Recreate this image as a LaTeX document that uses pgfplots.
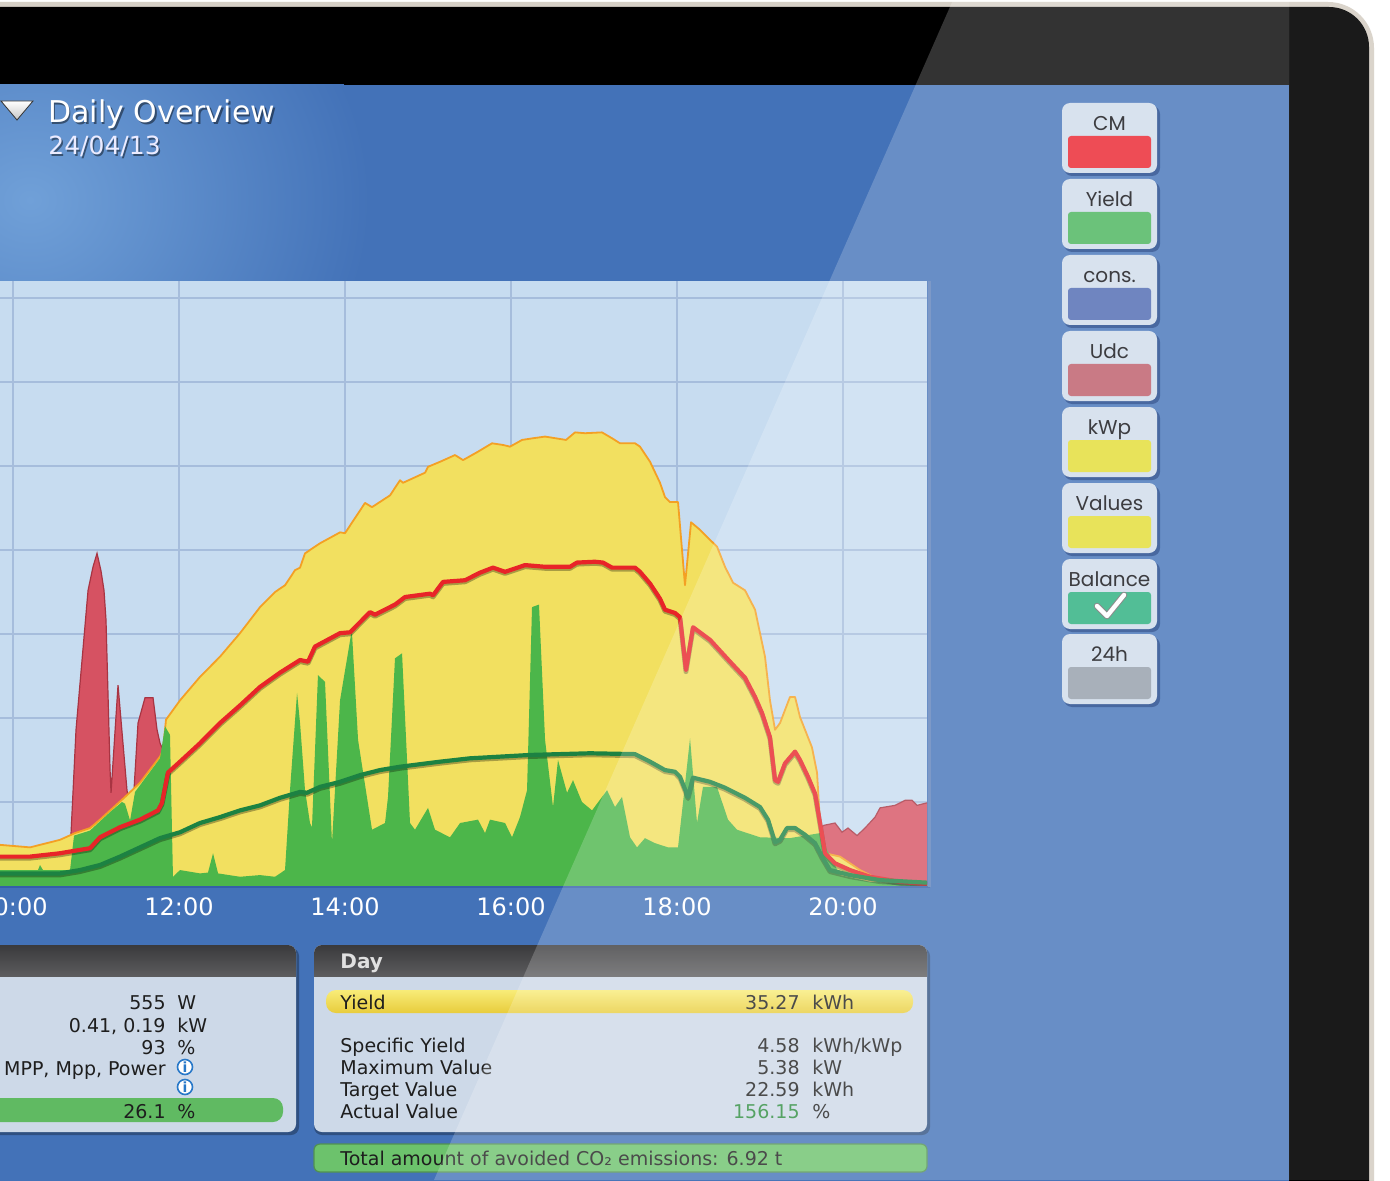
\documentclass[border=0pt]{standalone}
\usepackage{pgfplots}
\usepackage{pgfplotstable}
\pgfplotsset{compat=1.18}
\usepackage{fontspec}
\setmainfont{DejaVu Sans}
\newfontfamily\legfont{Poppins}
\newcommand\fs[1]{\fontsize{#1}{#1}\selectfont}

\definecolor{scrblue}{RGB}{67,114,184}
\definecolor{cloudc}{RGB}{112,160,216}
\definecolor{rimc}{RGB}{214,208,198}
\definecolor{plotbg}{RGB}{199,220,240}
\definecolor{gridc}{RGB}{166,189,220}
\definecolor{yelfill}{RGB}{242,224,96}
\definecolor{yeledge}{RGB}{244,160,36}
\definecolor{redfill}{RGB}{214,82,98}
\definecolor{rededge}{RGB}{168,52,66}
\definecolor{grnfill}{RGB}{76,182,74}
\definecolor{redline}{RGB}{232,36,40}
\definecolor{grnline}{RGB}{28,130,66}
\definecolor{axisblue}{RGB}{52,96,168}
\definecolor{panelbg}{RGB}{205,217,232}
\definecolor{hdr1}{RGB}{58,58,60}
\definecolor{hdr2}{RGB}{92,92,94}
\definecolor{txt}{RGB}{30,30,30}
\definecolor{txtgray}{RGB}{60,60,64}
\definecolor{btnbg}{RGB}{216,226,238}
\definecolor{btnsh}{RGB}{72,104,160}
\definecolor{cmc}{RGB}{238,76,85}
\definecolor{yieldc}{RGB}{107,194,122}
\definecolor{consc}{RGB}{111,133,192}
\definecolor{udcc}{RGB}{201,122,133}
\definecolor{kwpc}{RGB}{232,227,90}
\definecolor{balc}{RGB}{82,190,150}
\definecolor{h24c}{RGB}{168,176,186}
\definecolor{barylw1}{RGB}{248,236,120}
\definecolor{barylw2}{RGB}{232,204,60}
\definecolor{bargrn}{RGB}{96,186,98}
\definecolor{co2grn}{RGB}{108,194,108}
\definecolor{valgrn}{RGB}{44,140,62}
\definecolor{infoblue}{RGB}{40,120,200}

% time [h], power [kW]
\pgfplotstableread{
h v
9.843 0.49
10.205 0.46
10.566 0.55
10.747 0.63
10.928 0.69
11.048 0.79
11.349 1.06
11.530 1.23
11.771 1.54
11.807 1.62
11.843 1.98
12.012 2.21
12.253 2.49
12.494 2.73
12.735 3.01
12.976 3.32
13.157 3.50
13.277 3.58
13.398 3.76
13.458 3.79
13.518 3.96
13.699 4.08
13.940 4.21
14.000 4.20
14.120 4.38
14.241 4.56
14.325 4.51
14.542 4.65
14.663 4.83
14.699 4.80
14.964 4.92
15.000 4.99
15.145 5.05
15.325 5.13
15.422 5.07
15.602 5.17
15.771 5.27
15.904 5.25
15.988 5.23
16.133 5.31
16.265 5.33
16.410 5.35
16.663 5.31
16.771 5.40
16.892 5.39
17.096 5.40
17.217 5.33
17.313 5.27
17.494 5.27
17.554 5.23
17.675 5.05
17.795 4.80
17.855 4.63
17.916 4.57
18.012 4.57
18.096 3.58
18.169 4.33
18.277 4.24
18.398 4.12
18.482 4.04
18.578 3.80
18.675 3.61
18.819 3.52
18.940 3.29
19.060 2.73
19.120 2.21
19.181 1.86
19.241 1.94
19.361 2.25
19.422 2.25
19.482 2.01
19.542 1.86
19.626 1.65
19.687 1.35
19.723 0.75
19.783 0.39
19.964 0.35
20.205 0.19
20.446 0.07
20.687 0.02
21.012 0.01
}\yelarea

\pgfplotstableread{
h v
9.843 0.30
10.687 0.40
10.699 0.63
10.759 1.86
10.904 3.52
10.964 3.80
11.012 3.96
11.060 3.75
11.096 3.52
11.120 3.17
11.169 1.38
11.181 1.11
11.265 2.39
11.373 1.14
11.410 0.90
11.458 1.15
11.506 1.94
11.590 2.24
11.687 2.24
11.735 1.86
11.771 1.70
11.807 1.62
11.843 0.50
19.482 0.30
19.699 0.50
19.759 0.72
19.904 0.75
19.988 0.64
20.060 0.69
20.169 0.60
20.265 0.69
20.386 0.82
20.446 0.93
20.627 0.96
20.747 1.02
20.831 1.02
20.892 0.96
21.012 0.99
}\redarea

\pgfplotstableread{
h v
9.843 0.19
10.301 0.19
10.325 0.25
10.361 0.19
10.687 0.19
10.735 0.60
10.928 0.66
11.169 0.88
11.313 1.00
11.349 0.98
11.410 0.78
11.470 1.12
11.651 1.36
11.771 1.52
11.831 1.90
11.891 1.80
11.927 0.11
12.012 0.19
12.253 0.15
12.349 0.16
12.410 0.39
12.470 0.15
12.735 0.11
12.976 0.13
13.157 0.11
13.277 0.19
13.337 1.14
13.422 2.30
13.458 1.94
13.518 1.14
13.578 0.75
13.602 0.70
13.674 2.51
13.759 2.43
13.843 0.51
13.940 2.21
14.072 2.99
14.084 3.01
14.157 1.74
14.325 0.67
14.482 0.75
14.518 1.06
14.602 2.71
14.687 2.77
14.783 0.75
14.843 0.67
15.000 0.93
15.084 0.67
15.265 0.58
15.386 0.75
15.602 0.79
15.687 0.63
15.747 0.79
15.928 0.75
16.012 0.58
16.108 0.82
16.193 1.14
16.253 3.32
16.337 3.35
16.410 1.74
16.506 0.94
16.566 1.50
16.675 1.11
16.747 1.26
16.855 1.00
16.976 0.90
17.157 1.14
17.253 0.94
17.337 1.06
17.434 0.58
17.518 0.46
17.614 0.57
17.735 0.51
17.891 0.46
18.012 0.46
18.084 1.10
18.157 1.76
18.241 0.75
18.313 1.18
18.482 1.18
18.614 0.79
18.723 0.67
19.000 0.58
19.361 0.57
19.723 0.63
19.807 0.43
19.964 0.13
20.325 0.05
21.012 0.02
}\grnarea

\pgfplotstableread{
h v
9.843 0.35
10.205 0.35
10.566 0.39
10.928 0.45
11.048 0.58
11.289 0.70
11.530 0.79
11.747 0.90
11.795 0.99
11.867 1.35
12.012 1.48
12.253 1.70
12.494 1.94
12.735 2.15
12.976 2.37
13.217 2.54
13.458 2.69
13.554 2.67
13.638 2.85
13.940 3.01
14.060 3.02
14.301 3.26
14.361 3.23
14.602 3.35
14.723 3.44
15.024 3.48
15.060 3.46
15.181 3.62
15.446 3.64
15.627 3.73
15.783 3.79
15.928 3.74
16.169 3.82
16.410 3.80
16.711 3.80
16.795 3.85
17.012 3.86
17.108 3.85
17.217 3.79
17.494 3.79
17.554 3.74
17.675 3.60
17.795 3.42
17.855 3.29
17.976 3.25
18.036 3.20
18.108 2.57
18.193 3.08
18.398 2.93
18.639 2.67
18.819 2.48
18.940 2.25
19.024 2.06
19.120 1.77
19.181 1.26
19.217 1.24
19.301 1.46
19.422 1.60
19.482 1.50
19.578 1.30
19.663 1.10
19.723 0.75
19.783 0.39
19.904 0.27
20.084 0.19
20.325 0.11
20.687 0.05
21.012 0.02
}\redln

\pgfplotstableread{
h v
9.843 0.15
10.566 0.15
10.807 0.19
11.048 0.25
11.289 0.35
11.530 0.46
11.771 0.57
12.012 0.64
12.253 0.75
12.494 0.82
12.735 0.90
12.976 0.96
13.217 1.05
13.458 1.12
13.542 1.11
13.699 1.18
13.940 1.24
14.181 1.32
14.422 1.38
14.663 1.42
14.904 1.45
15.145 1.48
15.506 1.52
15.867 1.54
16.229 1.56
16.590 1.57
16.952 1.58
17.494 1.57
17.675 1.48
17.855 1.38
17.976 1.36
18.036 1.30
18.133 1.06
18.193 1.29
18.398 1.24
18.578 1.17
18.819 1.05
19.000 0.94
19.096 0.79
19.181 0.52
19.241 0.55
19.325 0.69
19.422 0.69
19.542 0.61
19.663 0.51
19.747 0.35
19.843 0.19
20.084 0.13
20.446 0.07
21.012 0.04
}\grnln

\begin{document}
\begin{tikzpicture}
\useasboundingbox (0pt,0pt) rectangle (695pt,590pt);
\clip (0pt,0pt) rectangle (695pt,590pt);

% ---------- monitor, screen, title (pixel coordinates)
\begin{scope}[x=0.5pt,y=-0.5pt,shift={(0pt,590pt)}]
  \fill[white] (0,0) rectangle (1390,1180);
  \fill[rimc, rounded corners=23pt] (-100,2) rectangle (1374,1400);
  \fill[black, rounded corners=20pt] (-100,7) rectangle (1369,1400);
  \fill[scrblue] (-10,85) rectangle (1289,1200);
  \begin{scope}
    \clip (-10,85) rectangle (1289,1200);
    \shade[inner color=cloudc, outer color=scrblue] (30,200) ellipse [x radius=340, y radius=300];
  \end{scope}
  % title
  \shade[top color=white, bottom color=gray!45, draw=gray!40!black, line width=0.4pt]
     (1,101) -- (33,101) -- (17,120) -- cycle;
  \node[anchor=mid west, inner sep=0pt, text=black, opacity=0.45] at (49.5,119) {\fs{15pt}Daily Overview};
  \node[anchor=mid west, inner sep=0pt, text=white] at (48,117) {\fs{15pt}Daily Overview};
  \node[anchor=mid west, inner sep=0pt, text=black, opacity=0.45] at (49.5,151) {\fs{12.5pt}24/04/13};
  \node[anchor=mid west, inner sep=0pt, text=white!92!blue] at (48,149) {\fs{12.5pt}24/04/13};
\end{scope}

% ---------- chart
\begin{axis}[
  at={(-10pt,147pt)}, anchor=south west,
  scale only axis, width=473.5pt, height=302.5pt,
  xmin=9.602, xmax=21.012, ymin=0, ymax=7.202,
  axis line style={draw=none},
  axis background/.style={fill=plotbg},
  xtick={10,12,14,16,18,20},
  xticklabels={10:00,12:00,14:00,16:00,18:00,20:00},
  ytick={1,2,3,4,5,6,7}, yticklabels={},
  major tick length=0pt,
  grid=major, grid style={gridc, line width=0.7pt},
  xticklabel style={font=\fs{12pt}, text=white, yshift=-2.5pt},
]
\addplot[fill=redfill, draw=none] table[x=h,y=v] {\redarea} \closedcycle;
\addplot[rededge, line width=0.6pt] table[x=h,y=v] {\redarea};
\addplot[fill=yelfill, draw=none] table[x=h,y=v] {\yelarea} \closedcycle;
\addplot[yeledge, line width=0.9pt, line join=round] table[x=h,y=v] {\yelarea};
\addplot[fill=grnfill, draw=none] table[x=h,y=v] {\grnarea} \closedcycle;
\addplot[black, opacity=0.3, line width=2.4pt, line join=round, yshift=-0.8pt] table[x=h,y=v] {\redln};
\addplot[redline, line width=2.1pt, line join=round] table[x=h,y=v] {\redln};
\addplot[black, opacity=0.3, line width=2.4pt, line join=round, yshift=-0.8pt] table[x=h,y=v] {\grnln};
\addplot[grnline, line width=2.1pt, line join=round] table[x=h,y=v] {\grnln};
\end{axis}

% ---------- axis edges, panels, glare, buttons (pixel coordinates)
\begin{scope}[x=0.5pt,y=-0.5pt,shift={(0pt,590pt)}]
  \draw[axisblue, line width=1pt] (-10,886.5) -- (930,886.5);
  \draw[axisblue!80, line width=1.5pt] (929,281) -- (929,887);
  % left panel
  \fill[black!30!scrblue, rounded corners=4pt] (-20,948) rectangle (299,1135);
  \fill[panelbg, rounded corners=4pt] (-20,945) rectangle (296,1132);
  \begin{scope}
    \clip[rounded corners=4pt] (-20,945) rectangle (296,1000);
    \shade[top color=hdr1, bottom color=hdr2] (-20,945) rectangle (296,976);
  \end{scope}
  \fill[bargrn, rounded corners=5pt] (-20,1098) rectangle (283,1122);
  \foreach \yy/\val/\unit in {1004/555/W,1027/{0.41, 0.19}/kW,1049/93/\%,1113/26.1/\%}{
    \node[anchor=mid east, inner sep=0pt, text=txt] at (166,\yy) {\fs{9.5pt}\val};
    \node[anchor=mid west, inner sep=0pt, text=txt] at (177,\yy) {\fs{9.5pt}\unit};
  }
  \node[anchor=mid east, inner sep=0pt, text=txt] at (166,1070) {\fs{9.5pt}MPP, Mpp, Power};
  \foreach \yy in {1067,1087}{
    \draw[infoblue, fill=white, line width=0.8pt] (185,\yy) circle [radius=7.5];
    \node[inner sep=0pt, text=infoblue] at (185,\yy) {\fs{7pt}\bfseries i};
  }
  % right panel
  \fill[black!30!scrblue, rounded corners=4pt] (314,948) rectangle (930,1135);
  \fill[panelbg, rounded corners=4pt] (314,945) rectangle (927,1132);
  \begin{scope}
    \clip[rounded corners=4pt] (314,945) rectangle (927,1000);
    \shade[top color=hdr1, bottom color=hdr2] (314,945) rectangle (927,976);
  \end{scope}
  \node[anchor=mid west, inner sep=0pt, text=white!88!black] at (340,963) {\fs{10pt}\bfseries Day};
  \shade[top color=barylw1, bottom color=barylw2, rounded corners=5pt] (326,990) rectangle (913,1013);
  \node[anchor=mid west, inner sep=0pt, text=txt] at (340,1004) {\fs{9.5pt}Yield};
  \node[anchor=mid east, inner sep=0pt, text=txt] at (800,1004) {\fs{9.5pt}35.27};
  \node[anchor=mid west, inner sep=0pt, text=txt] at (812,1004) {\fs{9.5pt}kWh};
  \foreach \yy/\lab/\val in {1047/Specific Yield/4.58,1069/Maximum Value/5.38,1091/Target Value/22.59}{
    \node[anchor=mid west, inner sep=0pt, text=txt] at (340,\yy) {\fs{9.5pt}\lab};
    \node[anchor=mid east, inner sep=0pt, text=txt] at (800,\yy) {\fs{9.5pt}\val};
  }
  \node[anchor=mid west, inner sep=0pt, text=txt] at (812,1047) {\fs{9.5pt}kWh/kWp};
  \node[anchor=mid west, inner sep=0pt, text=txt] at (812,1069) {\fs{9.5pt}kW};
  \node[anchor=mid west, inner sep=0pt, text=txt] at (812,1091) {\fs{9.5pt}kWh};
  \node[anchor=mid west, inner sep=0pt, text=txt] at (340,1113) {\fs{9.5pt}Actual Value};
  \node[anchor=mid east, inner sep=0pt, text=valgrn] at (800,1113) {\fs{9.5pt}156.15};
  \node[anchor=mid west, inner sep=0pt, text=txt] at (812,1113) {\fs{9.5pt}\%};
  % CO2 bar
  \fill[co2grn, draw=black!25!co2grn, line width=0.6pt, rounded corners=3pt] (314,1144) rectangle (927,1172);
  \node[anchor=mid west, inner sep=0pt, text=txt] at (340,1160) {\fs{9.5pt}Total amount of avoided CO₂ emissions: 6.92 t};
  % glare
  \fill[white, opacity=0.2] (953,0) -- (1289,0) -- (1289,1180) -- (434,1180) -- cycle;
  \fill[white, opacity=0.1] (1289,0) rectangle (1376,1180);
  % legend buttons
  \foreach \yy/\lab/\col in {103/CM/cmc,179/Yield/yieldc,255/cons./consc,331/Udc/udcc,407/kWp/kwpc,483/Values/kwpc,559/Balance/balc,634/24h/h24c}{
    \fill[btnsh, rounded corners=4pt] (1064,\yy+3) rectangle (1160,\yy+73);
    \fill[btnbg, rounded corners=4pt] (1062,\yy) rectangle (1157,\yy+70);
    \fill[\col, rounded corners=1.5pt] (1068,\yy+33) rectangle (1151,\yy+65);
    \node[inner sep=0pt, text=txtgray, anchor=mid] at (1109.5,\yy+22) {\legfont\fs{10pt}\lab};
  }
  \draw[black!45, line width=3.2pt, line cap=round, line join=round] (1097,606) -- (1107,616) -- (1124,595);
  \draw[white, line width=2.2pt, line cap=round, line join=round] (1097,606) -- (1107,616) -- (1124,595);
\end{scope}
\end{tikzpicture}
\end{document}
